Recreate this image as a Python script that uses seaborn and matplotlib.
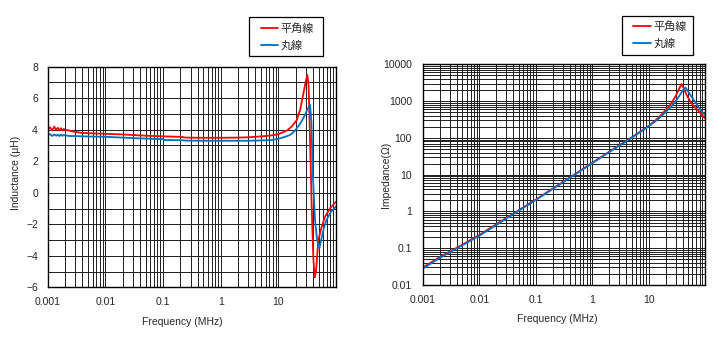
import numpy as np
import pandas as pd
import matplotlib
matplotlib.use("Agg")
import matplotlib.pyplot as plt
import matplotlib.ticker as mticker
from matplotlib.legend_handler import HandlerLine2D
import seaborn as sns

# ---------------- data ----------------
series_names = ["平角線", "丸線"]
colors = {"平角線": "#FF0000", "丸線": "#0070C0"}

# Inductance (uH) vs frequency (MHz)
f_L_red = [0.001, 0.0011, 0.0012, 0.0013, 0.0014, 0.0015, 0.0016, 0.0017, 0.0018, 0.0019,
           0.002, 0.0022, 0.0025, 0.003, 0.004, 0.005, 0.007, 0.01, 0.02, 0.04, 0.07, 0.1,
           0.2, 0.25, 0.5, 1, 2, 3, 4, 6, 8, 10, 14, 17, 20.8, 24, 27.2, 30, 31.9, 33.5,
           35.5, 37.9, 40.5, 42.8, 45, 49.4, 56, 64.5, 80, 100]
L_red = [4.0, 4.15, 3.95, 4.2, 4.0, 4.12, 3.95, 4.1, 3.95, 4.05,
         4.0, 3.97, 3.92, 3.86, 3.8, 3.78, 3.76, 3.74, 3.7, 3.64, 3.6, 3.58,
         3.55, 3.5, 3.49, 3.49, 3.5, 3.52, 3.55, 3.6, 3.65, 3.72, 3.94, 4.2, 4.6, 5.3, 6.3, 7.1, 7.48, 6.8,
         3.35, -0.9, -4.2, -5.36, -5.0, -3.0, -2.2, -1.52, -0.95, -0.57]

f_L_blue = [0.001, 0.0011, 0.0012, 0.0013, 0.0014, 0.0015, 0.0016, 0.0017, 0.0018, 0.0019,
            0.002, 0.0022, 0.0025, 0.003, 0.004, 0.005, 0.007, 0.01, 0.02, 0.04, 0.07, 0.1,
            0.11, 0.2, 0.25, 0.5, 1, 2, 3, 4, 6, 8, 10, 13, 16, 19, 22, 25, 29, 32, 35.5,
            37.5, 39.5, 43.3, 47, 51.5, 56, 62, 69, 82, 100]
L_blue = [3.65, 3.72, 3.6, 3.7, 3.62, 3.68, 3.6, 3.7, 3.62, 3.66,
          3.64, 3.62, 3.6, 3.6, 3.58, 3.57, 3.56, 3.55, 3.5, 3.45, 3.42, 3.4,
          3.34, 3.34, 3.31, 3.3, 3.3, 3.3, 3.3, 3.31, 3.33, 3.36, 3.42, 3.55, 3.67, 3.9, 4.2, 4.5, 4.94, 5.3, 5.57,
          4.5, 1.26, -1.73, -3.0, -3.52, -2.9, -2.2, -1.7, -1.2, -0.88]

# Impedance (ohm) vs frequency (MHz)
f_Z_red = [0.001, 0.002, 0.005, 0.01, 0.02, 0.05, 0.1, 0.2, 0.5, 1, 2, 5, 10, 15, 20,
           25, 30, 35, 38.3, 42, 47, 55, 62, 75, 88, 100]
Z_red = [0.03, 0.058, 0.125, 0.23, 0.45, 1.08, 2.1, 4.2, 10.4, 21, 42, 103, 210, 350, 570,
         850, 1350, 2200, 2900, 2200, 1500, 960, 760, 560, 420, 340]

f_Z_blue = [0.001, 0.002, 0.005, 0.01, 0.02, 0.05, 0.1, 0.2, 0.5, 1, 2, 5, 10, 15, 20,
            25, 30, 35, 40, 45, 50, 60, 70, 83, 100]
Z_blue = [0.028, 0.055, 0.12, 0.22, 0.43, 1.05, 2.05, 4.1, 10.2, 20.5, 41, 100, 205, 330, 500,
          700, 980, 1380, 1900, 2350, 1850, 1200, 850, 575, 420]

x_ticks = [0.001, 0.01, 0.1, 1, 10]
x_ticklabels = ["0.001", "0.01", "0.1", "1", "10"]
L_ticks = [-6, -4, -2, 0, 2, 4, 6, 8]
Z_ticks = [0.01, 0.1, 1, 10, 100, 1000, 10000]
Z_ticklabels = ["0.01", "0.1", "1", "10", "100", "1000", "10000"]

# ---------------- build frames ----------------
df_L = pd.concat([
    pd.DataFrame({"freq": f_L_red, "val": L_red, "series": series_names[0]}),
    pd.DataFrame({"freq": f_L_blue, "val": L_blue, "series": series_names[1]}),
], ignore_index=True)
df_Z = pd.concat([
    pd.DataFrame({"freq": f_Z_red, "val": Z_red, "series": series_names[0]}),
    pd.DataFrame({"freq": f_Z_blue, "val": Z_blue, "series": series_names[1]}),
], ignore_index=True)

sns.set_style("white")
plt.rcParams["font.family"] = ["Liberation Sans", "Noto Sans CJK JP", "DejaVu Sans"]

fig = plt.figure(figsize=(7.28, 3.4), dpi=100)
W, H = 728, 340
axL = fig.add_axes([47.7 / W, 1 - 287.3 / H, (336 - 47.7) / W, (287.3 - 66.7) / H])
axZ = fig.add_axes([423 / W, 1 - 285 / H, (705 - 423) / W, (285 - 64.3) / H])

grid_kw = dict(color="#1e1e1e", linewidth=0.7)
fs = 7.5
fs_leg = 8.0

for ax, df in ((axL, df_L), (axZ, df_Z)):
    sns.lineplot(data=df, x="freq", y="val", hue="series", hue_order=series_names,
                 palette=colors, estimator=None, sort=False, linewidth=1.3, ax=ax)
    ax.set_xscale("log")
    ax.set_xlim(0.001, 100)
    ax.xaxis.set_major_locator(mticker.FixedLocator(x_ticks))
    ax.xaxis.set_major_formatter(mticker.FixedFormatter(x_ticklabels))
    ax.xaxis.set_minor_locator(mticker.LogLocator(base=10, subs=np.arange(2, 10), numticks=20))
    ax.xaxis.set_minor_formatter(mticker.NullFormatter())
    ax.grid(True, which="both", axis="both", **grid_kw)
    ax.set_axisbelow(True)
    for s in ax.spines.values():
        s.set_color("black")
        s.set_linewidth(1.0)
    ax.tick_params(axis="both", which="major", direction="out", length=3, width=0.8,
                   color="black", labelsize=fs, pad=4)
    ax.tick_params(axis="both", which="minor", length=0)
    ax.set_xlabel("Frequency (MHz)", fontsize=fs)
    leg = ax.get_legend()
    if leg is not None:
        leg.remove()

axL.set_ylim(-6, 8)
axL.yaxis.set_major_locator(mticker.FixedLocator(L_ticks))
axL.yaxis.set_minor_locator(mticker.MultipleLocator(1))
axL.set_ylabel("Inductance (μH)", fontsize=fs)
axL.tick_params(axis="y", which="major", pad=4)

axZ.set_yscale("log")
axZ.set_ylim(0.01, 10000)
axZ.yaxis.set_major_locator(mticker.FixedLocator(Z_ticks))
axZ.yaxis.set_major_formatter(mticker.FixedFormatter(Z_ticklabels))
axZ.yaxis.set_minor_locator(mticker.LogLocator(base=10, subs=np.arange(2, 10), numticks=20))
axZ.yaxis.set_minor_formatter(mticker.NullFormatter())
axZ.set_ylabel("Impedance(Ω)", fontsize=fs)
axZ.tick_params(axis="y", which="major", pad=5)

# label positions (axes coordinates)
axL.yaxis.set_label_coords(-0.094, 0.52)
axZ.yaxis.set_label_coords(-0.112, 0.50)
axL.xaxis.set_label_coords(0.466, -0.135)
axZ.xaxis.set_label_coords(0.476, -0.13)

legend_boxes = {
    axL: (249, 17.3, 74.3, 36.0),
    axZ: (621.7, 15.7, 71.3, 36.0),
}
for ax, (lx, ly, lw_, lh) in legend_boxes.items():
    handles, labels = ax.get_legend_handles_labels()
    lg = ax.legend(handles, labels, loc="upper left",
                   bbox_to_anchor=(lx / W, 1 - (ly + lh) / H, lw_ / W, lh / H),
                   bbox_transform=fig.transFigure, mode="expand",
                   fontsize=fs_leg, frameon=True, fancybox=False, framealpha=1,
                   edgecolor="black", handlelength=2.15, handletextpad=0.2,
                   borderpad=0.5, labelspacing=0.6, borderaxespad=0,
                   handler_map={h: HandlerLine2D(xpad=0.55) for h in handles})
    lg.get_frame().set_linewidth(0.9)
    for t in lg.get_texts():
        t.set_fontfamily(["Noto Sans CJK JP", "DejaVu Sans"])

fig.savefig("out.png", dpi=100)
